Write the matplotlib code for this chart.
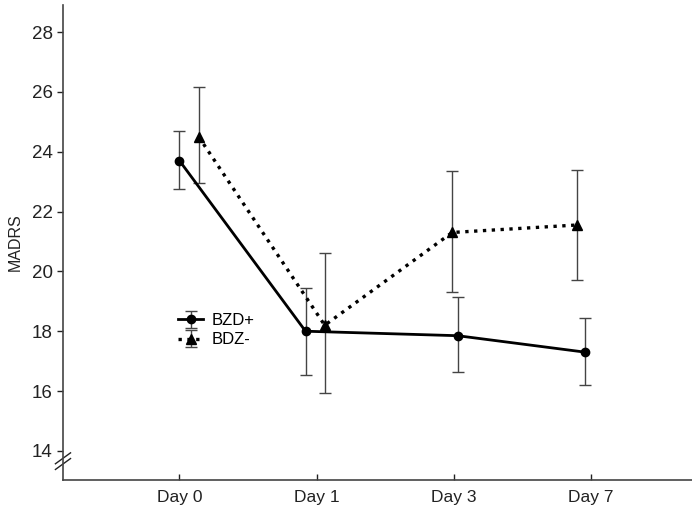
import numpy as np
import matplotlib.pyplot as plt

# --- Data --- #
days = ["Day 0", "Day 1", "Day 3", "Day 7"]

bzd_pos_mean = [23.7, 18.0, 17.85, 17.3]
bzd_pos_low = [22.75, 16.55, 16.65, 16.2]
bzd_pos_high = [24.7, 19.45, 19.15, 18.45]
bzd_pos_shift = [0.0, -0.08, 0.03, -0.04]

bdz_neg_mean = [24.5, 18.2, 21.3, 21.55]
bdz_neg_low = [22.95, 15.95, 19.3, 19.7]
bdz_neg_high = [26.15, 20.6, 23.35, 23.4]
bdz_neg_shift = [0.14, 0.06, -0.01, -0.1]

y_ticks = [14, 16, 18, 20, 22, 24, 26, 28]


def main():
    plt.rcParams['font.family'] = ['Liberation Sans', 'DejaVu Sans']
    px = 1/100
    fig = plt.figure(figsize=(692*px, 510*px), dpi=100)
    ax = fig.add_axes([0.091, 0.059, 0.909, 0.931])

    x = np.arange(len(days))
    err_col = '#444444'

    for mean, low, high, shift, ls, mk, lw, lab in [
            (bzd_pos_mean, bzd_pos_low, bzd_pos_high, bzd_pos_shift, '-', 'o', 2.0, 'BZD+'),
            (bdz_neg_mean, bdz_neg_low, bdz_neg_high, bdz_neg_shift, ':', '^', 2.4, 'BDZ-')]:
        mean = np.array(mean)
        yerr = [mean - np.array(low), np.array(high) - mean]
        xs = x + np.array(shift)
        ax.errorbar(xs, mean, yerr=yerr, linestyle=ls, color='black', lw=lw, marker=mk,
                    markersize=6 if mk == 'o' else 7, ecolor=err_col, elinewidth=1.0,
                    capsize=4.5, capthick=1.0, label=lab)

    ax.set_xlim(-0.85, 3.74)
    ax.set_ylim(13.03, 28.9)
    ax.set_xticks(x)
    ax.set_xticklabels(days)
    ax.set_yticks(y_ticks)
    ax.set_ylabel("MADRS", fontsize=11.5, color='#222222', labelpad=6)
    ax.tick_params(axis='y', direction='out', length=4, labelsize=13.5, colors='#222222', width=1)
    ax.tick_params(axis='x', direction='in', length=4, labelsize=12.5, colors='#222222', width=1, pad=7)
    for s in ['top', 'right']:
        ax.spines[s].set_visible(False)
    for s in ['left', 'bottom']:
        ax.spines[s].set_color('#444444')
        ax.spines[s].set_linewidth(1.2)

    # axis break marks on the y axis
    for dy in [0.0, 0.012]:
        ax.plot([-0.012, 0.012], [0.022 + dy, 0.045 + dy], transform=ax.transAxes,
                color='#222222', lw=1.0, clip_on=False)

    ax.legend(frameon=False, loc='center left', bbox_to_anchor=(0.183, 0.315),
              borderaxespad=0, borderpad=0, handlelength=1.5, handletextpad=0.5,
              labelspacing=0.25, fontsize=12)

    fig.savefig("out.png", dpi=100)


if __name__ == "__main__":
    main()
